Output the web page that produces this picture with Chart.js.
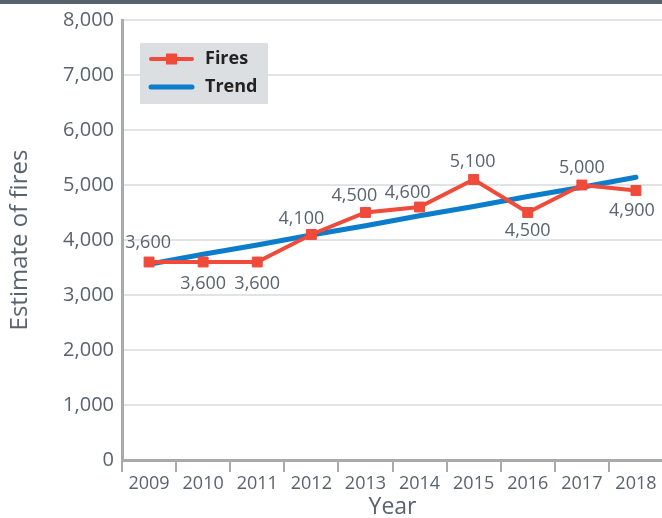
<!DOCTYPE html>
<html>
<head>
<meta charset="utf-8">
<script src="https://cdn.jsdelivr.net/npm/chart.js@4"></script>
<style>
  html, body { margin: 0; padding: 0; background: #fff; overflow: hidden; }
  #topbar { position: absolute; left: 0; top: 0; width: 662px; height: 4px; background: #56626c; z-index: 2; }
  #wrap { position: absolute; left: 0; top: 0; width: 662px; height: 518px; overflow: hidden; }
</style>
</head>
<body>
<div id="topbar"></div>
<div id="wrap"><canvas id="firesChart" width="671" height="518"></canvas></div>
<script>
// values
const years = ["2009", "2010", "2011", "2012", "2013", "2014", "2015", "2016", "2017", "2018"];
const fires = [3600, 3600, 3600, 4100, 4500, 4600, 5100, 4500, 5000, 4900];
const trend = [3560, 3740, 3910, 4090, 4260, 4440, 4610, 4790, 4960, 5140];

// where each value label sits relative to its point (px)
const labelDx = [-1, 0, 0, -10, -11, -12, -1, 0, 0, -4];
const labelDy = [-19, 22, 22, -16, -17, -14, -18, 18, -17, 20];

const FONT = "'Open Sans', sans-serif";
const TEXT = "#58636d";
const AXIS = "#a7abae";
const RED = "#ef4a3a";
const BLUE = "#0b7dcb";

// value labels next to the Fires points
const valueLabels = {
  id: "valueLabels",
  afterDatasetsDraw(chart) {
    const ctx = chart.ctx;
    const meta = chart.getDatasetMeta(0);
    ctx.save();
    ctx.font = "18px " + FONT;
    ctx.fillStyle = TEXT;
    ctx.textAlign = "center";
    ctx.textBaseline = "middle";
    meta.data.forEach((pt, i) => {
      ctx.fillText(fires[i].toLocaleString("en-US"), pt.x + labelDx[i], pt.y + labelDy[i]);
    });
    ctx.restore();
  }
};

// grey legend box in the upper left of the plot
const legendBox = {
  id: "legendBox",
  afterDraw(chart) {
    const { ctx, chartArea } = chart;
    const x = chartArea.left + 18;
    const y = chartArea.top + 23;
    ctx.save();
    ctx.fillStyle = "#dcdfe2";
    ctx.fillRect(x, y, 128, 61);

    ctx.lineCap = "round";
    ctx.strokeStyle = RED;
    ctx.lineWidth = 4;
    ctx.beginPath();
    ctx.moveTo(x + 11, y + 16);
    ctx.lineTo(x + 52, y + 16);
    ctx.stroke();
    ctx.fillStyle = RED;
    ctx.fillRect(x + 26, y + 10.5, 11, 11);

    ctx.strokeStyle = BLUE;
    ctx.lineWidth = 5;
    ctx.beginPath();
    ctx.moveTo(x + 11, y + 44);
    ctx.lineTo(x + 52, y + 44);
    ctx.stroke();

    ctx.fillStyle = "#222";
    ctx.font = "bold 18px " + FONT;
    ctx.textAlign = "left";
    ctx.textBaseline = "middle";
    ctx.fillText("Fires", x + 65, y + 16);
    ctx.fillText("Trend", x + 65, y + 44);
    ctx.restore();
  }
};

new Chart(document.getElementById("firesChart"), {
  type: "line",
  data: {
    labels: years,
    datasets: [
      {
        label: "Fires",
        data: fires,
        borderColor: RED,
        backgroundColor: RED,
        borderWidth: 4,
        pointStyle: "rect",
        pointRadius: 7,
        pointBorderWidth: 1,
        pointHoverRadius: 7,
        tension: 0
      },
      {
        label: "Trend",
        data: trend,
        borderColor: BLUE,
        borderWidth: 5,
        borderCapStyle: "round",
        pointRadius: 0,
        tension: 0
      }
    ]
  },
  options: {
    responsive: false,
    animation: false,
    devicePixelRatio: 1,
    layout: { padding: { top: 18, left: 7, right: 0, bottom: 0 } },
    plugins: {
      legend: { display: false },
      tooltip: { enabled: false }
    },
    scales: {
      x: {
        offset: true,
        grid: {
          offset: true,
          drawOnChartArea: false,
          tickLength: 12,
          tickColor: AXIS,
          lineWidth: 2
        },
        border: { color: AXIS, width: 3 },
        ticks: {
          color: TEXT,
          font: { family: FONT, size: 18 },
          padding: 1,
          maxRotation: 0,
          autoSkip: false
        },
        title: {
          display: true,
          text: "Year",
          color: TEXT,
          font: { family: FONT, size: 23, lineHeight: 0.9 },
          padding: 0
        },
        afterFit: (s) => { s.height = 58; }
      },
      y: {
        min: 0,
        max: 8000,
        grid: { color: "#e1e3e5", lineWidth: 2, drawTicks: false },
        border: { color: AXIS, width: 3 },
        ticks: {
          stepSize: 1000,
          color: TEXT,
          font: { family: FONT, size: 20 },
          padding: 8,
          callback: (v) => v.toLocaleString("en-US")
        },
        title: {
          display: true,
          text: "Estimate of fires",
          color: TEXT,
          font: { family: FONT, size: 24, lineHeight: 1.1 },
          padding: 0
        },
        afterFit: (s) => { s.width = 115; }
      }
    }
  },
  plugins: [valueLabels, legendBox]
});
</script>
</body>
</html>
